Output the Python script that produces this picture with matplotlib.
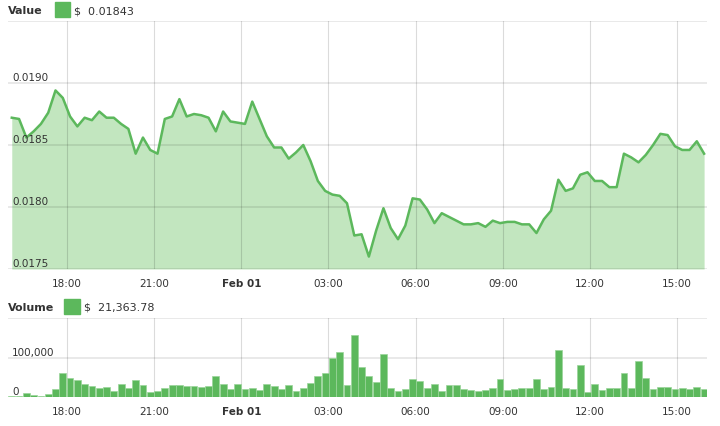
import numpy as np
import matplotlib.pyplot as plt
import matplotlib.patches as mpatches
from matplotlib.transforms import blended_transform_factory

# hours since Jan 31 00:00, one point every ~15 minutes
times = np.linspace(16.10, 39.93, 96)

price = [0.01872, 0.01871, 0.01856, 0.01861, 0.01867, 0.01876, 0.01894, 0.01888,
         0.01873, 0.01865, 0.01872, 0.01870, 0.01877, 0.01872, 0.01872, 0.01867,
         0.01863, 0.01843, 0.01856, 0.01846, 0.01843, 0.01871, 0.01873, 0.01887,
         0.01873, 0.01875, 0.01874, 0.01872, 0.01861, 0.01877, 0.01869, 0.01868,
         0.01867, 0.01885, 0.01871, 0.01857, 0.01848, 0.01848, 0.01839, 0.01844,
         0.01850, 0.01837, 0.01821, 0.01813, 0.01810, 0.01809, 0.01803, 0.01777,
         0.01778, 0.01760, 0.01781, 0.01799, 0.01783, 0.01774, 0.01785, 0.01807,
         0.01806, 0.01798, 0.01787, 0.01795, 0.01792, 0.01789, 0.01786, 0.01786,
         0.01787, 0.01784, 0.01789, 0.01787, 0.01788, 0.01788, 0.01786, 0.01786,
         0.01779, 0.01790, 0.01797, 0.01822, 0.01813, 0.01815, 0.01826, 0.01828,
         0.01821, 0.01821, 0.01816, 0.01816, 0.01843, 0.01840, 0.01836, 0.01842,
         0.01850, 0.01859, 0.01858, 0.01849, 0.01846, 0.01846, 0.01853, 0.01843]

volume = [2000, 3000, 11000, 4000, 2000, 7000, 19000, 61000,
          47000, 42000, 33000, 28000, 22000, 26000, 14000, 33000,
          22000, 42000, 31000, 12000, 14000, 23000, 30000, 30000,
          28000, 28000, 26000, 28000, 52000, 33000, 19000, 33000,
          20000, 24000, 17000, 33000, 28000, 19000, 31000, 14000,
          24000, 35000, 52000, 61000, 99000, 113000, 31000, 157000,
          77000, 52000, 37000, 110000, 24000, 14000, 19000, 45000,
          40000, 22000, 33000, 14000, 31000, 31000, 19000, 17000,
          14000, 17000, 22000, 45000, 17000, 19000, 22000, 24000,
          45000, 19000, 26000, 119000, 22000, 19000, 82000, 12000,
          33000, 17000, 24000, 24000, 61000, 24000, 90000, 47000,
          19000, 26000, 26000, 19000, 24000, 19000, 26000, 21364]

tick_hours = [18, 21, 24, 27, 30, 33, 36, 39]
tick_labels = ['18:00', '21:00', 'Feb 01', '03:00', '06:00', '09:00', '12:00', '15:00']
price_ticks = [0.0175, 0.0180, 0.0185, 0.0190]
price_lines = [0.0175, 0.0180, 0.0185, 0.0190, 0.0195]
volume_ticks = [0, 100000]
volume_lines = [100000, 200000]

green = '#5cb85c'
fill_green = '#c2e6bf'
text_col = '#333333'

W, H = 720, 427
fig = plt.figure(figsize=(7.2, 4.27), dpi=100)

def px_box(left, top, right, bottom):
    return [left / W, 1 - bottom / H, (right - left) / W, (bottom - top) / H]

# ---- price panel
ax = fig.add_axes(px_box(8, 22, 707, 270))
ax.fill_between(times, price, 0.0175, color=fill_green, lw=0, zorder=1)
ax.plot(times, price, color=green, lw=1.8, zorder=3, solid_joinstyle='round')
for v in price_lines:
    ax.axhline(v, color='black', alpha=0.1, lw=1.2, zorder=2)
for h in tick_hours:
    ax.axvline(h, color='black', alpha=0.14, lw=0.8, zorder=2)
ax.set_xlim(15.97, 40.03)
ax.set_ylim(0.0175, 0.0195)
ax.set_yticks([])
ax.set_xticks(tick_hours)
ax.set_xticklabels(tick_labels, fontsize=7.5, color=text_col)
ax.tick_params(axis='x', length=0, pad=6.5)
ax.get_xticklabels()[2].set_fontweight('bold')
for s in ax.spines.values():
    s.set_visible(False)
tr = blended_transform_factory(ax.transAxes, ax.transData)
for v in price_ticks:
    ax.annotate(f'{v:.4f}', (0.0057, v), xycoords=tr, xytext=(0, 2),
                textcoords='offset points', fontsize=7.5, color=text_col,
                ha='left', va='baseline', zorder=4)

# ---- volume panel
axv = fig.add_axes(px_box(8, 319, 707, 398))
for v in volume_lines:
    axv.axhline(v, color='black', alpha=0.1, lw=1.2, zorder=1)
for h in tick_hours:
    axv.axvline(h, color='black', alpha=0.14, lw=0.8, zorder=1)
axv.bar(times, volume, width=0.235, color=green, edgecolor='#9ad59a',
        lw=0.5, zorder=2)
axv.set_xlim(15.97, 40.03)
axv.set_ylim(0, 200000)
axv.set_yticks([])
axv.set_xticks(tick_hours)
axv.set_xticklabels(tick_labels, fontsize=7.5, color=text_col)
axv.tick_params(axis='x', length=0, pad=6.5)
axv.get_xticklabels()[2].set_fontweight('bold')
for s in axv.spines.values():
    s.set_visible(False)
trv = blended_transform_factory(axv.transAxes, axv.transData)
for v in volume_ticks:
    axv.annotate(f'{v:,}', (0.0057, v), xycoords=trv, xytext=(0, 2),
                 textcoords='offset points', fontsize=7.5, color=text_col,
                 ha='left', va='baseline', zorder=4)

# ---- headers
fig.text(8 / W, 1 - 11.5 / H, 'Value', fontsize=8, fontweight='bold',
         color=text_col, va='center', ha='left')
fig.patches.append(mpatches.Rectangle((55 / W, 1 - 18 / H), 15 / W, 15 / H,
                                      transform=fig.transFigure, color=green))
fig.text(74 / W, 1 - 11.5 / H, '$  0.01843', fontsize=8, color=text_col,
         va='center', ha='left')

fig.text(8 / W, 1 - 308 / H, 'Volume', fontsize=8, fontweight='bold',
         color=text_col, va='center', ha='left')
fig.patches.append(mpatches.Rectangle((64 / W, 1 - 315 / H), 16 / W, 15 / H,
                                      transform=fig.transFigure, color=green))
fig.text(84 / W, 1 - 308 / H, '$  21,363.78', fontsize=8, color=text_col,
         va='center', ha='left')

fig.savefig('out.png', dpi=100)
